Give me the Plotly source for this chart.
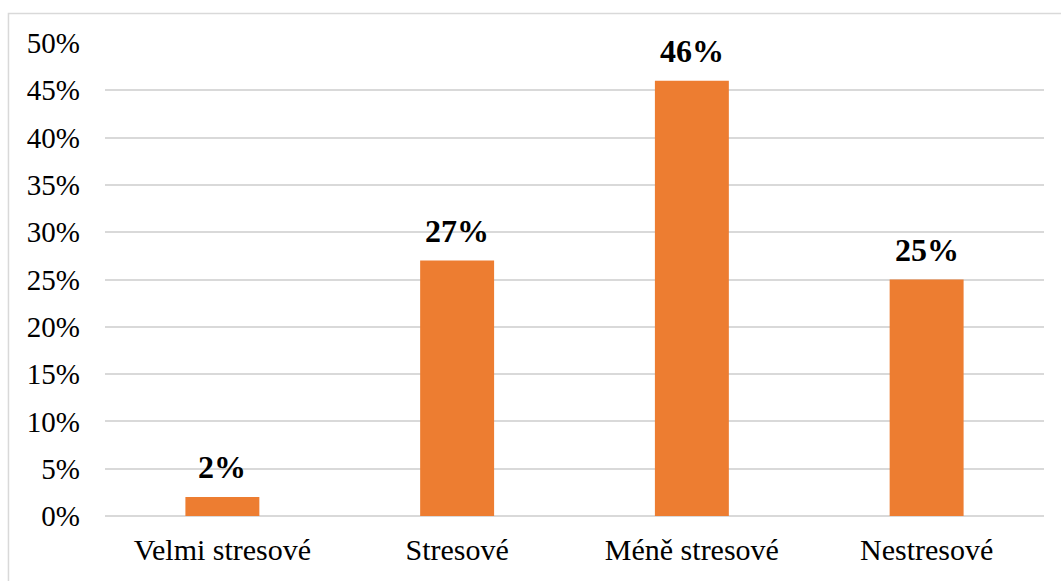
import plotly.graph_objects as go

categories = ["Velmi stresové", "Stresové", "Méně stresové", "Nestresové"]
shares = [2, 27, 46, 25]
y_ticks = [0, 5, 10, 15, 20, 25, 30, 35, 40, 45, 50]
y_tick_labels = [f"{v}%" for v in y_ticks]

BAR_COLOR = "#ED7D31"
GRID_COLOR = "#D9D9D9"
FONT = "Liberation Serif, Times New Roman, serif"

fig = go.Figure(
    go.Bar(
        x=categories,
        y=shares,
        marker=dict(color=BAR_COLOR, line=dict(width=0)),
        hoverinfo="x+y",
    )
)

# value labels above each bar
for cat, val in zip(categories, shares):
    fig.add_annotation(
        x=cat,
        y=val,
        text=f"<b>{val}%</b>",
        showarrow=False,
        yanchor="bottom",
        yshift=10,
        font=dict(family=FONT, size=32, color="#000000"),
    )

fig.update_layout(
    width=1061,
    height=581,
    margin=dict(l=105, r=17, t=43, b=65),
    paper_bgcolor="#FFFFFF",
    plot_bgcolor="#FFFFFF",
    bargap=0.685,
    showlegend=False,
    font=dict(family=FONT, size=29, color="#000000"),
    xaxis=dict(
        showgrid=False,
        showline=False,
        ticks="",
        tickfont=dict(family=FONT, size=30, color="#000000"),
        ticklabelstandoff=13,
    ),
    yaxis=dict(
        range=[0, 50],
        tickvals=y_ticks,
        ticktext=y_tick_labels,
        showgrid=True,
        gridcolor=GRID_COLOR,
        gridwidth=1.5,
        zeroline=True,
        zerolinecolor=GRID_COLOR,
        zerolinewidth=1.5,
        showline=False,
        ticks="",
        tickfont=dict(family=FONT, size=29, color="#000000"),
        ticklabelstandoff=24,
    ),
    shapes=[
        dict(
            type="rect",
            xref="paper",
            yref="paper",
            x0=-0.1028,
            x1=1.05,
            y0=-0.3,
            y1=1.0624,
            line=dict(color=GRID_COLOR, width=1.5),
            fillcolor="rgba(0,0,0,0)",
            layer="below",
        )
    ],
)

fig.write_html("out.html")
